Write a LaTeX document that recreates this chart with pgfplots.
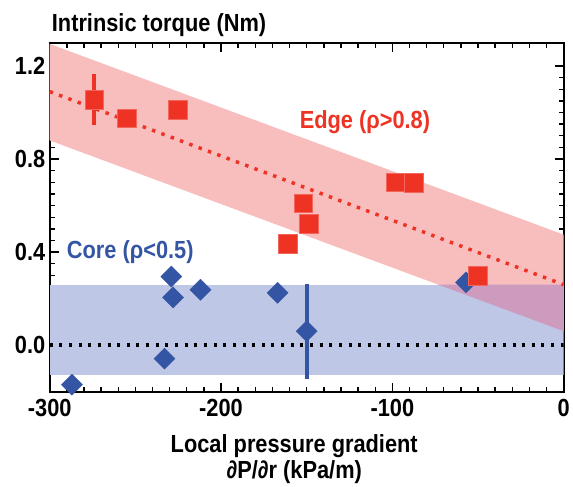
\documentclass[border=0pt]{standalone}
\usepackage{fontspec}
\setmainfont{Liberation Sans}[FakeStretch=0.88]
\usepackage{pgfplots}
\pgfplotsset{compat=1.18}
\definecolor{ered}{RGB}{238,51,36}
\definecolor{cblue}{RGB}{52,84,164}
\definecolor{bandblue}{RGB}{190,200,230}
\definecolor{bandred}{RGB}{248,190,190}
\definecolor{bandmix}{RGB}{205,155,190}
\newcommand{\bigf}{\fontsize{25}{27}\selectfont\bfseries}
\begin{document}
\begin{tikzpicture}
\begin{axis}[
  at={(0,0)}, anchor=south west,
  width=517bp, height=351bp, scale only axis,
  xmin=-300, xmax=0, ymin=-0.2, ymax=1.3,
  xtick={-300,-200,-100,0},
  ytick={0,0.4,0.8,1.2},
  yticklabels={0.0,0.4,0.8,1.2},
  minor x tick num=9,
  minor y tick num=7,
  major tick length=9bp, minor tick length=5bp,
  tick style={line width=1.4bp, black},
  axis line style={line width=1.8bp},
  /pgf/number format/assume math mode=true,
  ticklabel style={font=\bigf},
  xticklabel style={yshift=-4bp},
  yticklabel style={xshift=-1bp},
  clip=true,
]
% bands
\addplot[draw=none, fill=bandred] coordinates {(-300,0.88) (0,0.06) (0,0.475) (-300,1.295)} -- cycle;
\addplot[draw=none, fill=bandblue] coordinates {(-300,-0.13) (0,-0.13) (0,0.26) (-300,0.26)} -- cycle;
\addplot[draw=none, fill=bandmix] coordinates {(-73.2,0.26) (0,0.06) (0,0.26)} -- cycle;
% fit lines
\addplot[ered, line width=3.5bp, dash pattern=on 3.5bp off 6.5bp] coordinates {(-300,1.09) (0,0.26)};
\addplot[black, line width=4bp, dash pattern=on 3bp off 6.7bp] coordinates {(-300,0) (0,0)};
% core
\addplot[only marks, mark=square*, mark size=7.5bp, mark options={rotate=45, fill=cblue, draw=cblue},
  error bars/.cd, y dir=both, y explicit, error mark=none,
  error bar style={line width=4bp, cblue}]
  coordinates {
  (-287,-0.17) (-233,-0.058) (-229,0.295) (-228,0.205) (-212,0.238) (-167,0.225)
  (-150,0.06) +- (0,0.205) (-57,0.27)};
% edge
\addplot[only marks, mark=square*, mark size=9.5bp, mark options={fill=ered, draw=ered!75!white, line width=0.6bp},
  error bars/.cd, y dir=both, y explicit, error mark=none,
  error bar style={line width=4bp, ered}]
  coordinates {
  (-274,1.055) +- (0,0.11) (-255,0.975) (-225,1.01) (-98,0.70) (-87.5,0.697)
  (-152,0.61) (-149,0.523) (-161,0.434) (-50,0.298)};
\node[ered, font=\bigf] at (axis cs:-116,0.957) {Edge (ρ>0.8)};
\node[cblue, font=\bigf] at (axis cs:-253,0.40) {Core (ρ<0.5)};
\end{axis}
\node[anchor=base west, font=\bigf, inner sep=0pt] at (2bp,362bp) {Intrinsic torque (Nm)};
\node[anchor=base, font=\bigf, inner sep=0pt] at (246bp,-61bp) {Local pressure gradient};
\node[anchor=base, font=\bigf, inner sep=0pt] at (246bp,-87bp) {∂P/∂r (kPa/m)};
\useasboundingbox (-50bp,-95bp) rectangle (523bp,394bp);
\end{tikzpicture}
\end{document}
